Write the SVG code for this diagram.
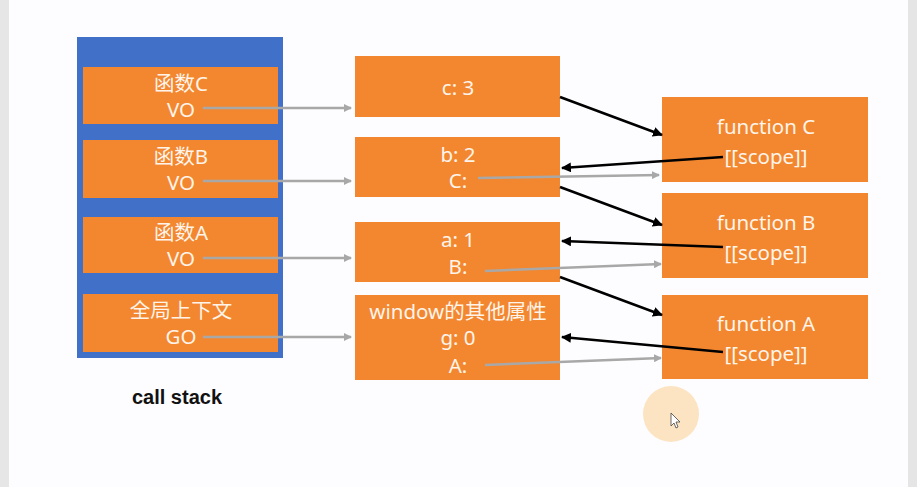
<svg xmlns="http://www.w3.org/2000/svg" width="917" height="487" viewBox="0 0 917 487">
<style>
.box{fill:#F3872F}
.t{font-family:"Noto Sans","Noto Sans CJK SC",sans-serif;font-size:20.5px;fill:#FFF4EA;text-anchor:middle}
.g{stroke:#A8A8A8;stroke-width:2.5;fill:none;marker-end:url(#ag)}
.k{stroke:#000;stroke-width:2.5;fill:none;marker-end:url(#ak)}
</style>
<defs>
<marker id="ag" markerWidth="10" markerHeight="8" refX="7" refY="4" orient="auto" markerUnits="userSpaceOnUse">
<path d="M0,0 L8,4 L0,8 Z" fill="#A8A8A8"/>
</marker>
<marker id="ak" markerWidth="12" markerHeight="10" refX="9" refY="5" orient="auto" markerUnits="userSpaceOnUse">
<path d="M0,0 L10,5 L0,10 Z" fill="#000"/>
</marker>
</defs>
<rect x="0" y="0" width="917" height="487" fill="#FDFCFE"/>
<rect x="0" y="0" width="9" height="487" fill="#E6E6E6"/>
<rect x="908" y="0" width="9" height="487" fill="#E5E5E5"/>

<g id="callstack">
<rect x="77" y="37" width="206" height="321" fill="#4070C8"/>
</g>
<g id="funcC-vo">
<rect class="box" x="83" y="67" width="195" height="57"/>
<text class="t" x="181" y="91">函数C</text>
<text class="t" x="181" y="117">VO</text>
</g>
<g id="funcB-vo">
<rect class="box" x="83" y="140" width="195" height="58"/>
<text class="t" x="181" y="164">函数B</text>
<text class="t" x="181" y="190">VO</text>
</g>
<g id="funcA-vo">
<rect class="box" x="83" y="217" width="195" height="56"/>
<text class="t" x="181" y="240">函数A</text>
<text class="t" x="181" y="266">VO</text>
</g>
<g id="global-go">
<rect class="box" x="83" y="294" width="195" height="58"/>
<text class="t" x="181" y="318">全局上下文</text>
<text class="t" x="181" y="344">GO</text>
</g>
<g id="label-callstack">
<text x="177" y="404" font-family="Liberation Sans, Arial, sans-serif" font-weight="bold" font-size="20" fill="#111" text-anchor="middle">call stack</text>
</g>

<g id="vo-c">
<rect class="box" x="355" y="56" width="205" height="61"/>
<text class="t" x="458" y="95">c: 3</text>
</g>
<g id="vo-b">
<rect class="box" x="355" y="137" width="205" height="60"/>
<text class="t" x="458" y="162">b: 2</text>
<text class="t" x="458" y="188">C:</text>
</g>
<g id="vo-a">
<rect class="box" x="355" y="222" width="205" height="60"/>
<text class="t" x="458" y="247">a: 1</text>
<text class="t" x="458" y="274">B:</text>
</g>
<g id="go">
<rect class="box" x="355" y="295" width="205" height="85"/>
<text class="t" x="458" y="319">window的其他属性</text>
<text class="t" x="458" y="345">g: 0</text>
<text class="t" x="458" y="373">A:</text>
</g>

<g id="fn-c">
<rect class="box" x="662" y="97" width="206" height="85"/>
<text class="t" x="766" y="134">function C</text>
<text class="t" x="766" y="164">[[scope]]</text>
</g>
<g id="fn-b">
<rect class="box" x="662" y="193" width="206" height="85"/>
<text class="t" x="766" y="230">function B</text>
<text class="t" x="766" y="260">[[scope]]</text>
</g>
<g id="fn-a">
<rect class="box" x="662" y="295" width="206" height="84"/>
<text class="t" x="766" y="331">function A</text>
<text class="t" x="766" y="361">[[scope]]</text>
</g>

<g id="connectors">
<line class="g" x1="203" y1="108" x2="351" y2="108"/>
<line class="g" x1="203" y1="181" x2="351" y2="181"/>
<line class="g" x1="203" y1="258" x2="351" y2="258"/>
<line class="g" x1="203" y1="337" x2="351" y2="337"/>
<line class="g" x1="478" y1="178" x2="659" y2="175"/>
<line class="g" x1="485" y1="271" x2="661" y2="264"/>
<line class="g" x1="485" y1="365" x2="661" y2="358"/>
<line class="k" x1="560" y1="97" x2="662" y2="135"/>
<line class="k" x1="560" y1="187" x2="662" y2="225"/>
<line class="k" x1="560" y1="277" x2="662" y2="315"/>
<line class="k" x1="723" y1="157" x2="562" y2="168"/>
<line class="k" x1="723" y1="247" x2="562" y2="241"/>
<line class="k" x1="723" y1="352" x2="562" y2="337"/>
</g>

<g id="cursor">
<circle cx="671" cy="414" r="28" fill="#FCE4C2"/>
<path d="M671,413 L671,426 L674,423 L676,428 L678,427 L676,422 L680,422 Z" fill="#fff" stroke="#444" stroke-width="0.8"/>
</g>
</svg>
